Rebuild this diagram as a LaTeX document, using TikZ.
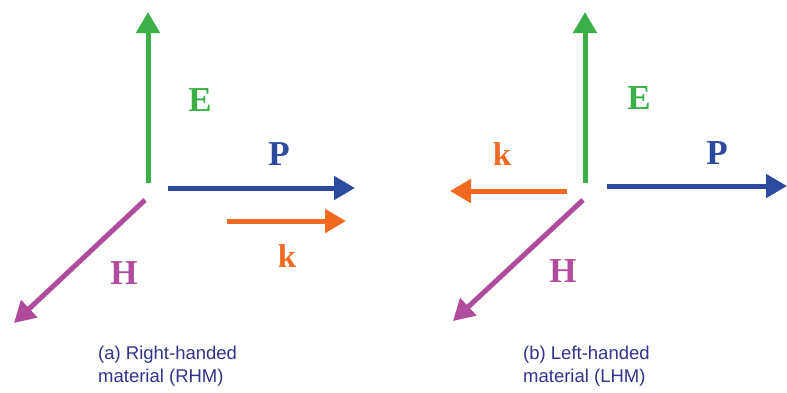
\documentclass[tikz,border=0pt]{standalone}
\usepackage{fontspec}
\setmainfont{Liberation Serif}
\setsansfont{Liberation Sans}
\usetikzlibrary{arrows.meta}
\definecolor{egreen}{RGB}{60,176,72}
\definecolor{pblue}{RGB}{46,74,158}
\definecolor{korange}{RGB}{242,106,34}
\definecolor{hmag}{RGB}{176,76,156}
\definecolor{capblue}{RGB}{51,51,140}
\tikzset{
  vec/.style={line width=5pt, -{Triangle[length=21pt,width=23pt]}},
  lbl/.style={font=\bfseries\fontsize{35}{35}\selectfont, anchor=base, inner sep=0pt},
  klbl/.style={font=\bfseries\fontsize{33}{33}\selectfont, anchor=base, inner sep=0pt},
  captext/.style={font=\sffamily\fontsize{18.5}{18.5}\selectfont, text=capblue, anchor=base west, inner sep=0pt}
}
\begin{document}
\begin{tikzpicture}[x=1pt,y=-1pt]
\useasboundingbox[fill=white] (0,0) rectangle (787,392);
% ---- (a) right-handed ----
\coordinate (aE0) at (148,183); \coordinate (aE1) at (148,12);
\coordinate (aP0) at (168,188); \coordinate (aP1) at (355,188);
\coordinate (ak0) at (227,221); \coordinate (ak1) at (346,221);
\coordinate (aH0) at (145,200); \coordinate (aH1) at (14,323);
\draw[vec, egreen] (aE0) -- (aE1);
\draw[vec, pblue] (aP0) -- (aP1);
\draw[vec, korange] (ak0) -- (ak1);
\draw[vec, hmag] (aH0) -- (aH1);
\node[lbl, text=egreen] (aEl) at (200,111) {E};
\node[lbl, text=pblue] (aPl) at (279,165) {P};
\node[klbl, text=korange] (akl) at (287,267) {k};
\node[lbl, text=hmag] (aHl) at (124,284) {H};
\node[captext] (acap1) at (98,359) {(a) Right-handed};
\node[captext] (acap2) at (98,382) {material (RHM)};
% ---- (b) left-handed ----
\coordinate (bE0) at (585,183); \coordinate (bE1) at (585,12);
\coordinate (bP0) at (607,186); \coordinate (bP1) at (787,186);
\coordinate (bk0) at (567,191); \coordinate (bk1) at (450,191);
\coordinate (bH0) at (583,200); \coordinate (bH1) at (453,321);
\draw[vec, egreen] (bE0) -- (bE1);
\draw[vec, pblue] (bP0) -- (bP1);
\draw[vec, korange] (bk0) -- (bk1);
\draw[vec, hmag] (bH0) -- (bH1);
\node[lbl, text=egreen] (bEl) at (639,109) {E};
\node[lbl, text=pblue] (bPl) at (717,164) {P};
\node[klbl, text=korange] (bkl) at (502,165) {k};
\node[lbl, text=hmag] (bHl) at (563,282) {H};
\node[captext] (bcap1) at (523,359) {(b) Left-handed};
\node[captext] (bcap2) at (523,382) {material (LHM)};
\end{tikzpicture}
\end{document}
